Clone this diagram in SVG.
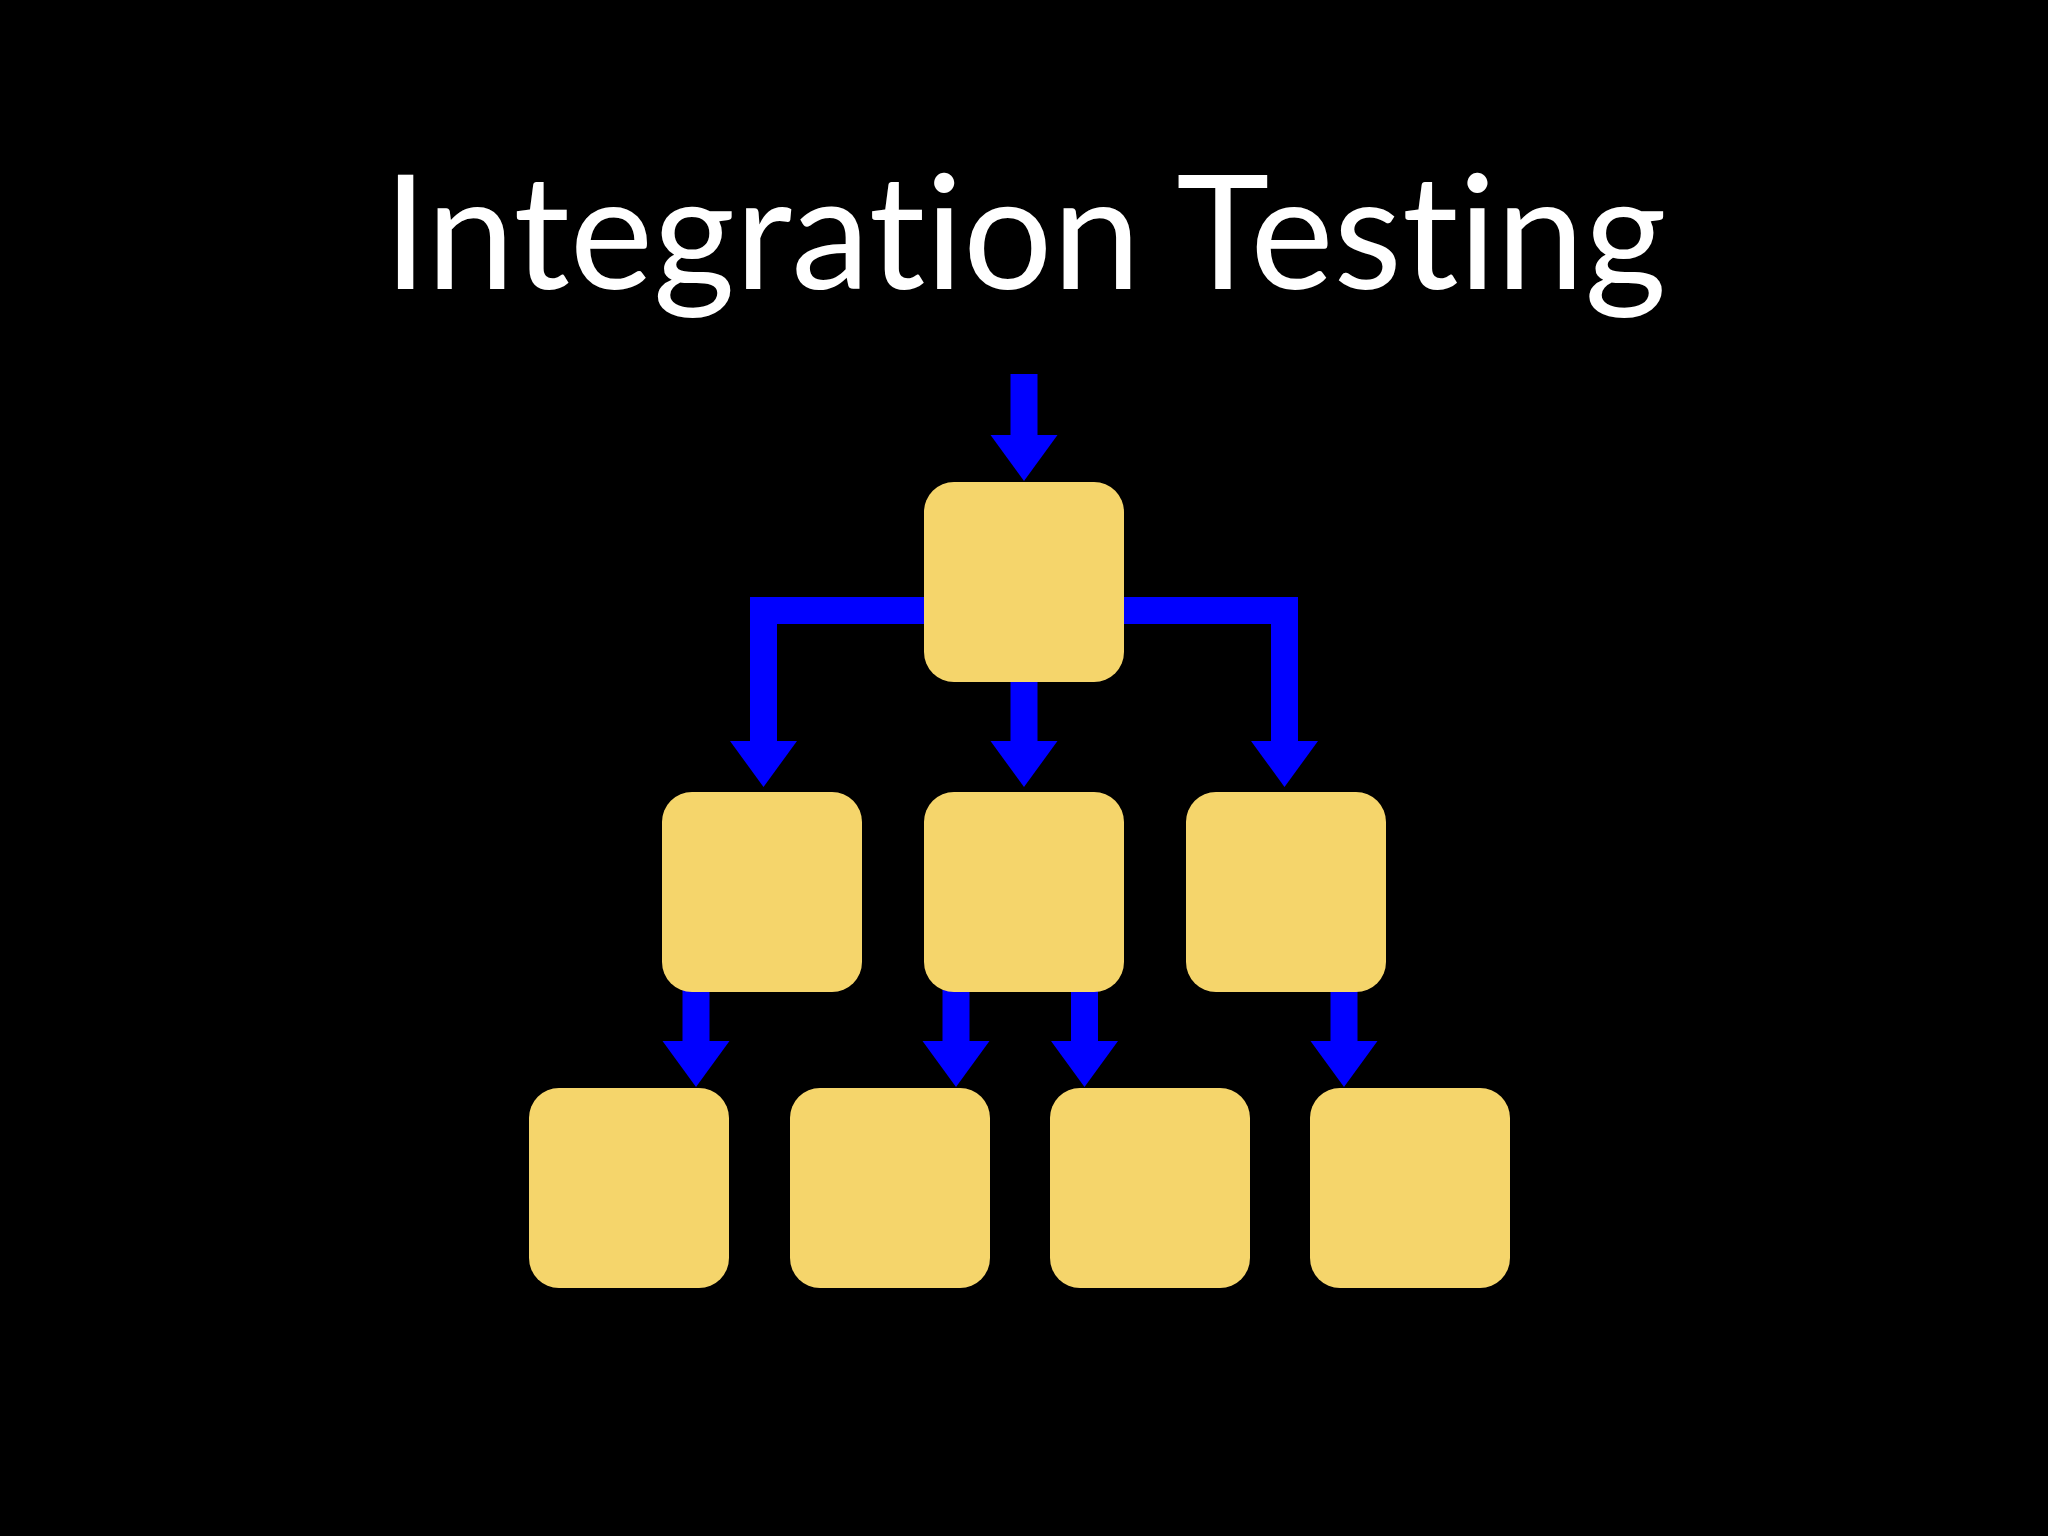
<svg xmlns="http://www.w3.org/2000/svg" width="2048" height="1536" viewBox="0 0 2048 1536">
  <style>
    .node { fill: #F5D56B; }
    .conn { fill: none; stroke: #0000FF; stroke-width: 27; stroke-linecap: butt; stroke-linejoin: miter; marker-end: url(#ah); }
    .title { font-family: Lato, "Open Sans", "Liberation Sans", sans-serif; font-size: 160px; fill: #FFFFFF; font-variant-ligatures: none; }
  </style>
  <defs>
    <marker id="ah" markerUnits="userSpaceOnUse" markerWidth="50" markerHeight="70" refX="0" refY="33.5" orient="auto" overflow="visible">
      <path d="M0,0 L46,33.5 L0,67 Z" fill="#0000FF"/>
    </marker>
  </defs>
  <rect x="0" y="0" width="2048" height="1536" fill="#000000"/>
  <text class="title" x="1025" y="289" text-anchor="middle" textLength="1283" lengthAdjust="spacingAndGlyphs">Integration Testing</text>

  <g id="connectors">
    <path class="conn" d="M1024,374 V435"/>
    <path class="conn" d="M930,610.5 H763.5 V741"/>
    <path class="conn" d="M1118,610.5 H1284.5 V741"/>
    <path class="conn" d="M1024,680 V741"/>
    <path class="conn" d="M696,990 V1041"/>
    <path class="conn" d="M956,990 V1041"/>
    <path class="conn" d="M1084.5,990 V1041"/>
    <path class="conn" d="M1344,990 V1041"/>
  </g>

  <g id="node-top"><rect class="node" x="924" y="482" width="200" height="200" rx="30"/></g>
  <g id="node-l2-left"><rect class="node" x="662" y="792" width="200" height="200" rx="30"/></g>
  <g id="node-l2-mid"><rect class="node" x="924" y="792" width="200" height="200" rx="30"/></g>
  <g id="node-l2-right"><rect class="node" x="1186" y="792" width="200" height="200" rx="30"/></g>
  <g id="node-l3-1"><rect class="node" x="529" y="1088" width="200" height="200" rx="30"/></g>
  <g id="node-l3-2"><rect class="node" x="790" y="1088" width="200" height="200" rx="30"/></g>
  <g id="node-l3-3"><rect class="node" x="1050" y="1088" width="200" height="200" rx="30"/></g>
  <g id="node-l3-4"><rect class="node" x="1310" y="1088" width="200" height="200" rx="30"/></g>
</svg>
